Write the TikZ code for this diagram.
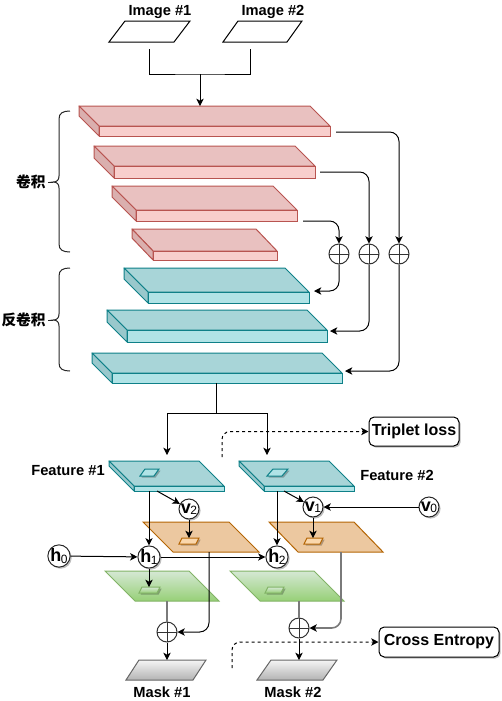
\documentclass[tikz,border=0pt]{standalone}
\usepackage{fontspec}
\setmainfont{Liberation Sans}
\newfontfamily\cjk{Noto Sans CJK SC}
\usetikzlibrary{arrows.meta,fit,calc}
\definecolor{redtop}{HTML}{E9C1C0}
\definecolor{redfront}{HTML}{F8CECC}
\definecolor{redside}{HTML}{DAAFAE}
\definecolor{redline}{HTML}{B85450}
\definecolor{teatop}{HTML}{A8D5D8}
\definecolor{teafront}{HTML}{B0E3E6}
\definecolor{teaside}{HTML}{99C8CC}
\definecolor{tealine}{HTML}{0E8088}
\definecolor{orfill}{HTML}{ECC8A0}
\definecolor{orsmall}{HTML}{FAD7AC}
\definecolor{orline}{HTML}{B46504}
\definecolor{grtop}{HTML}{D5E8D4}
\definecolor{grbot}{HTML}{97D077}
\definecolor{grline}{HTML}{82B366}
\definecolor{mktop}{HTML}{F5F5F5}
\definecolor{mkbot}{HTML}{B3B3B3}
\definecolor{mkline}{HTML}{666666}
\definecolor{conn}{HTML}{7A7A7A}

\newcommand\cubeslab[8]{%
  \draw[#8line, fill=#8top, line join=round] (#2,#3) -- (#4,#3) -- ({#4+#5},{#3+#6}) -- ({#2+#5},{#3+#6}) -- cycle;
  \draw[#8line, fill=#8side, line join=round] (#2,#3) -- ({#2+#5},{#3+#6}) -- ({#2+#5},{#3+#6+#7}) -- (#2,{#3+#7}) -- cycle;
  \coordinate (#1-a) at ({#2+#5},{#3+#6});
  \coordinate (#1-b) at ({#4+#5},{#3+#6+#7});
  \coordinate (#1-c) at (#2,#3);
  \node[fit=(#1-a)(#1-b), inner sep=0pt, outer sep=0pt, draw=#8line, fill=#8front] (#1) {};
  \node[fit=(#1-c)(#1-b), inner sep=0pt, outer sep=0pt] (#1all) {};
}
\newcommand\flatpara[7]{%
  \draw[#7] (#2,#3) coordinate (#1-bl) -- ({#2+#4},#3) coordinate (#1-br) -- ({#2+#4+#6},{#3-#5}) coordinate (#1-tr) -- ({#2+#6},{#3-#5}) coordinate (#1-tl) -- cycle;
  \node[fit=(#1-bl)(#1-br)(#1-tr)(#1-tl), inner sep=0pt, outer sep=0pt] (#1) {};
}
\newcommand\bracepath[3]{%
  \draw[black!85] (70,#1) .. controls (63,#1) and (59,{#1+2}) .. (59,{#1+8}) -- (59,{#3-6}) .. controls (59,{#3-2}) and (57,#3) .. (53,#3) .. controls (57,#3) and (59,{#3+2}) .. (59,{#3+6}) -- (59,{#2-8}) .. controls (59,{#2-2}) and (63,#2) .. (70,#2);
  \draw[black!85] (48,#3) -- (53,#3);
}
\newcommand\circlbl[2]{{\bfseries\fontsize{13.5}{12}\selectfont #1}\kern-0.4pt\raisebox{-0.8pt}{\fontsize{9}{8}\selectfont #2}}

\begin{document}
\begin{tikzpicture}[x=0.75pt,y=-0.75pt, line width=0.75pt,
  arr/.style={-{Stealth[length=5.5pt,width=5.5pt,inset=1.5pt,color=black]}},
  lbl/.style={font=\bfseries\fontsize{11}{13}\selectfont, inner sep=0pt},
  cnlbl/.style={font=\cjk\bfseries\fontsize{11}{13}\selectfont, inner sep=0pt},
  shd/.style={preaction={fill=black, opacity=0.25, transform canvas={shift={(1.2pt,-1.2pt)}}}},
  circ/.style={circle, draw=black!85, fill=white, minimum size=15pt, inner sep=0pt, shd},
  plus/.style={circle, draw=black!80, fill=white, minimum size=15pt, inner sep=0pt,
    path picture={\draw[black!80, line width=0.75pt] (path picture bounding box.north) -- (path picture bounding box.south) (path picture bounding box.west) -- (path picture bounding box.east);}},
  lossbox/.style={draw=black, fill=white, rounded corners=4pt, inner sep=0pt, font=\bfseries\fontsize{12}{14}\selectfont, shd},
  dashline/.style={dash pattern=on 2.25pt off 2.25pt},
  gline/.style={draw=conn, line width=1.2pt}
]
\useasboundingbox (0,0) rectangle (502,701);

% inputs
\flatpara{img1}{109}{42}{65}{21}{16}{draw=black, fill=white}
\flatpara{img2}{223}{42}{64}{21}{15}{draw=black, fill=white}
\node[lbl] (img1l) at (160,12) {Image \#1};
\node[lbl] (img2l) at (273,12) {Image \#2};
\coordinate (join) at (200,74);

% encoder / decoder
\cubeslab{c1}{79}{106}{310}{20}{20}{10}{red}
\cubeslab{c2}{94}{146}{295}{20}{20}{12}{red}
\cubeslab{c3}{112}{186}{273}{24}{24}{11}{red}
\cubeslab{c4}{132}{229}{256}{21}{22}{9}{red}
\cubeslab{d1}{124}{268}{285}{24}{24}{11}{tea}
\cubeslab{d2}{107}{310}{307}{20}{20}{12}{tea}
\cubeslab{d3}{92}{353}{322}{20}{20}{10}{tea}

\draw ($(img1.south)+(0,7)$) |- (join) -| ($(img2.south)+(-12.5,7)$);
\draw[arr] (join) -- (join |- c1all.north);

\node[plus] (p1) at (339,254) {};
\node[plus] (p2) at (369,254) {};
\node[plus] (p3) at (399,254) {};
\draw[arr, rounded corners=7pt] ($(c1.east)+(6,1)$) -| (p3.north);
\draw[arr, rounded corners=7pt] ($(c2.east)+(5,0)$) -| (p2.north);
\draw[arr, rounded corners=7pt] ($(c3.south east)+(6,0)$) -| (p1.north);
\draw[arr, rounded corners=7pt] (p1.south) |- ($(d1.north east)+(5,-1)$);
\draw[arr, rounded corners=7pt] (p2.south) |- ($(d2.north east)+(3,1)$);
\draw[arr, rounded corners=7pt] (p3.south) |- ($(d3.north east)+(3,-2)$);

\bracepath{111}{252}{182}
\bracepath{268}{371}{320}
\node[cnlbl, anchor=east] (enc) at (46,182) {卷积};
\node[cnlbl, anchor=east] (dec) at (46,320) {反卷积};

% features
\cubeslab{f1}{109}{461}{199}{25}{25}{5}{tea}
\cubeslab{f2}{239}{461}{329}{25}{25}{5}{tea}
\flatpara{fs1}{140}{476}{14}{7}{5}{draw=tealine, fill=teafront, shd}
\flatpara{fs2}{267}{476}{15}{7}{6}{draw=tealine, fill=teafront, shd}
\node[lbl] (f1l) at (68,471) {Feature \#1};
\node[lbl] (f2l) at (397,475) {Feature \#2};

\coordinate (split) at (216,413);
\coordinate (f1in) at (167,455);
\coordinate (f2in) at (267,455);
\draw (split |- d3all.south) -- (split);
\draw[arr] (split) -| (f1in);
\draw[arr] (split) -| (f2in);

\node[lossbox, minimum width=67.5pt, minimum height=21.75pt] (trip) at (414,431.5) {Triplet loss};
\coordinate (tripfrom) at (222,457);
\draw[arr, dashline, rounded corners=6pt] (tripfrom) |- (trip.west);

% recurrent part
\flatpara{o1}{173}{552}{86}{30}{-30}{draw=orline, fill=orfill}
\flatpara{o2}{298}{552}{85}{30}{-29}{draw=orline, fill=orfill}
\flatpara{os1}{179}{544}{17}{6}{3}{draw=orline, fill=orsmall, shd}
\flatpara{os2}{304}{544}{16}{6}{3}{draw=orline, fill=orsmall, shd}
\flatpara{g1}{135}{601}{84}{30}{-30}{draw=grline, top color=grtop, bottom color=grbot}
\flatpara{g2}{260}{601}{84}{30}{-30}{draw=grline, top color=grtop, bottom color=grbot}
\flatpara{gs1}{139}{593}{18}{6}{3}{draw=grline, top color=grtop, bottom color=grbot, shd}
\flatpara{gs2}{265}{593}{16}{6}{3}{draw=grline, top color=grtop, bottom color=grbot, shd}

\node[circ] (v2) at (189,509) {\circlbl{v}{2}};
\node[circ] (v1) at (313,507) {\circlbl{v}{1}};
\node[circ] (v0) at (429,507) {\circlbl{v}{0}};
\node[circ] (h0) at (59,556) {\circlbl{h}{0}};
\node[circ] (h1) at (149,557) {\circlbl{h}{1}};
\node[circ] (h2) at (277,557) {\circlbl{h}{2}};

\draw[arr] ($(f1.south west)+(23,0)$) -- (v2);
\draw[arr] ($(f2.south west)+(20,0)$) -- (v1);
\draw[arr] (h1 |- f1.south) -- (h1.north);
\draw[arr] (h2 |- f2.south) -- (h2.north);
\draw[arr] (v0) -- (v1);
\draw[arr] (h0) -- (h1);
\draw[arr] (h1) -- (h2);
\draw[arr] (v2.south) -- (v2.south |- os1.north);
\draw[arr] (v1.south) -- (v1.south |- os2.north);
\draw[arr] (h1.south) -- (h1.south |- gs1.north);

% masks
\flatpara{m1}{126}{680}{67}{20}{13}{draw=mkline, top color=mktop, bottom color=mkbot}
\flatpara{m2}{257}{680}{66}{20}{14}{draw=mkline, top color=mktop, bottom color=mkbot}
\node[lbl] (m1l) at (162,692) {Mask \#1};
\node[lbl] (m2l) at (293,692) {Mask \#2};

\node[plus] (q1) at (167,632) {};
\node[plus] (q2) at (299,628) {};
\draw[gline] (q1 |- g1.south) -- (q1.north);
\draw[arr, rounded corners=7pt] ($(o1.south west)+(66,0)$) |- (q1.east);
\draw[arr] (q1.south) -- (q1.south |- m1.north);
\draw[gline] (q2 |- g2.south) -- (q2.north);
\draw[arr, gline, rounded corners=7pt] ($(o2.south west)+(72,0)$) |- (q2.east);
\draw[arr] (q2.south) -- (q2.south |- m2.north);

\node[lossbox, minimum width=90pt, minimum height=22.5pt] (ce) at (439,642) {Cross Entropy};
\coordinate (cefrom) at (232,668);
\draw[arr, dashline, rounded corners=6pt] (cefrom) |- (ce.west);
\end{tikzpicture}
\end{document}
